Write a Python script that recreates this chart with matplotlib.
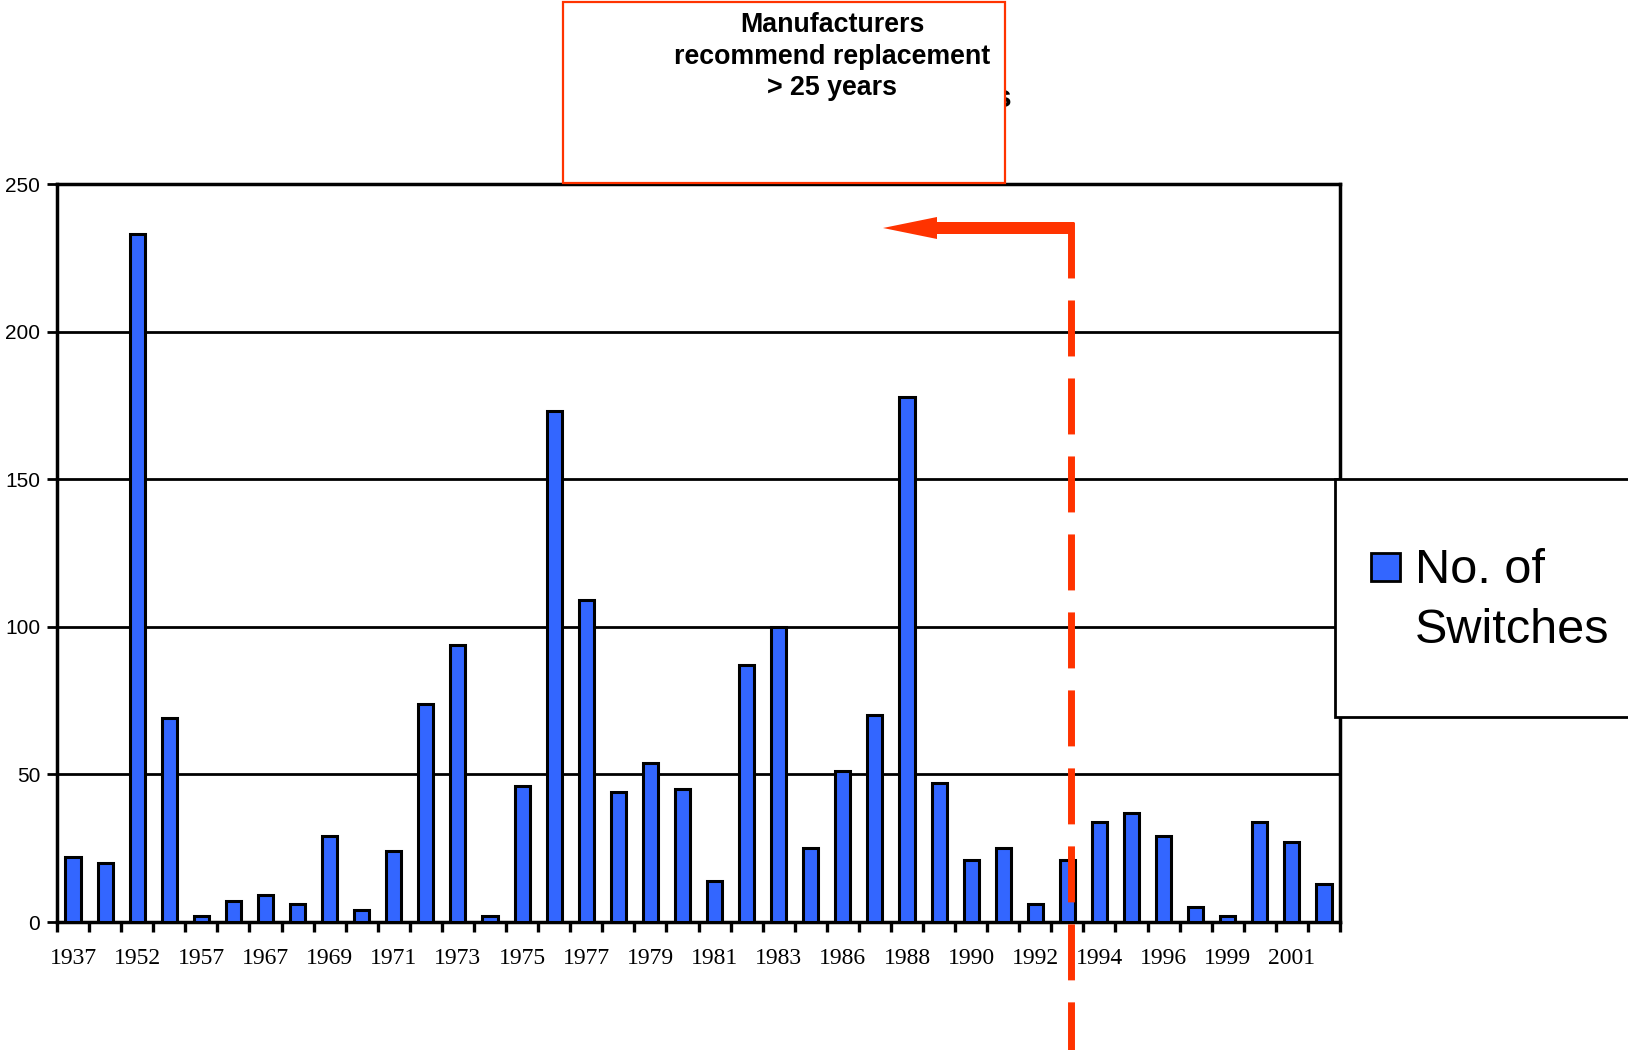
import numpy as np
import matplotlib
matplotlib.use("Agg")
import matplotlib.pyplot as plt
from matplotlib.patches import Rectangle, Polygon
from matplotlib.lines import Line2D
from matplotlib.transforms import blended_transform_factory

plt.rcParams["font.family"] = ["Liberation Sans", "DejaVu Sans"]

# switches in service, by year of installation
tick_years = ["1937", "1952", "1957", "1967", "1969", "1971", "1973", "1975",
              "1977", "1979", "1981", "1983", "1986", "1988", "1990", "1992",
              "1994", "1996", "1999", "2001"]
switch_counts = [22, 20, 233, 69, 2, 7, 9, 6, 29, 4,
                 24, 74, 94, 2, 46, 173, 109, 44, 54, 45,
                 14, 87, 100, 25, 51, 70, 178, 47, 21, 25,
                 6, 21, 34, 37, 29, 5, 2, 34, 27, 13]
series_label = "No. of\nSwitches"
note_lines = ["Manufacturers", "recommend replacement", "> 25 years"]
cutoff_pos = 31.1   # 25-year line, in bar units

BAR_BLUE = "#3366FF"
RED = "#FF3300"
W, H = 1628, 1050


def fx(px):
    return px / W


def fy(py):
    return 1 - py / H


fig = plt.figure(figsize=(W / 100, H / 100), dpi=100)
ax = fig.add_axes([fx(57), fy(922), fx(1340) - fx(57), fy(184) - fy(922)])

n = len(switch_counts)
x = np.arange(n)
ax.bar(x, switch_counts, width=0.47, color=BAR_BLUE, edgecolor="black",
       linewidth=2.2, zorder=3)

ax.set_xlim(-0.5, n - 0.5)
ax.set_ylim(0, 250)
ax.set_yticks(np.arange(0, 251, 50))
ax.yaxis.grid(True, color="black", linewidth=2.0)
ax.set_axisbelow(True)

# tick marks between categories, labels on every other bar
ax.set_xticks(np.arange(-0.5, n, 1))
ax.set_xticklabels([])
ax.set_xticks(x[::2], minor=True)
ax.set_xticklabels(tick_years, minor=True, fontfamily="Liberation Serif",
                   fontsize=17)
ax.tick_params(axis="x", which="major", direction="out", length=7, width=2.4)
ax.tick_params(axis="x", which="minor", length=0, pad=19)
ax.tick_params(axis="y", direction="out", length=7, width=2.0, pad=5,
               labelsize=15)
for s in ax.spines.values():
    s.set_linewidth(2.5)
    s.set_color("black")

# fragment of the chart title left behind the note box
fig.text(fx(1012), fy(107), "s", ha="right", va="baseline", fontsize=23,
         fontweight="bold", zorder=1)

# note box
fig.add_artist(Rectangle((fx(563), fy(183)), fx(1005) - fx(563),
                         (183 - 1.5) / H, transform=fig.transFigure,
                         facecolor="white", edgecolor=RED, linewidth=1.6,
                         zorder=2))
for line, base in zip(note_lines, [32.5, 63.5, 95]):
    fig.text(fx(832), fy(base), line, ha="center", va="baseline",
             fontsize=19.3, fontweight="bold", zorder=3)

# dashed cutoff line running down past the axis
trans = blended_transform_factory(ax.transData, fig.transFigure)
fig.add_artist(Line2D([cutoff_pos, cutoff_pos], [fy(222), 0.0],
                      transform=trans, color=RED, linewidth=5,
                      dashes=(8.06, 3.17), solid_capstyle="butt",
                      dash_capstyle="butt", clip_on=False, zorder=4))

# arrow pointing to older switches
cx = ax.transData.transform((cutoff_pos, 0))[0]
right = cx + 3.5
arrow_px = [(883, 228), (937, 217), (937, 222), (right, 222), (right, 234),
            (937, 234), (937, 239)]
fig.add_artist(Polygon([(fx(px), fy(py)) for px, py in arrow_px],
                       closed=True, transform=fig.transFigure,
                       facecolor=RED, edgecolor="none", zorder=4))

# legend
fig.add_artist(Rectangle((fx(1335), fy(716.5)), fx(1660) - fx(1335),
                         (716.5 - 478.5) / H, transform=fig.transFigure,
                         facecolor="white", edgecolor="black", linewidth=2,
                         zorder=2))
fig.add_artist(Rectangle((fx(1371), fy(581)), 29 / W, 28 / H,
                         transform=fig.transFigure, facecolor=BAR_BLUE,
                         edgecolor="black", linewidth=2, zorder=3))
for part, base in zip(series_label.split("\n"), [583, 643]):
    fig.text(fx(1415), fy(base), part, ha="left", va="baseline",
             fontsize=35, zorder=3)

fig.savefig("out.png", dpi=100)
